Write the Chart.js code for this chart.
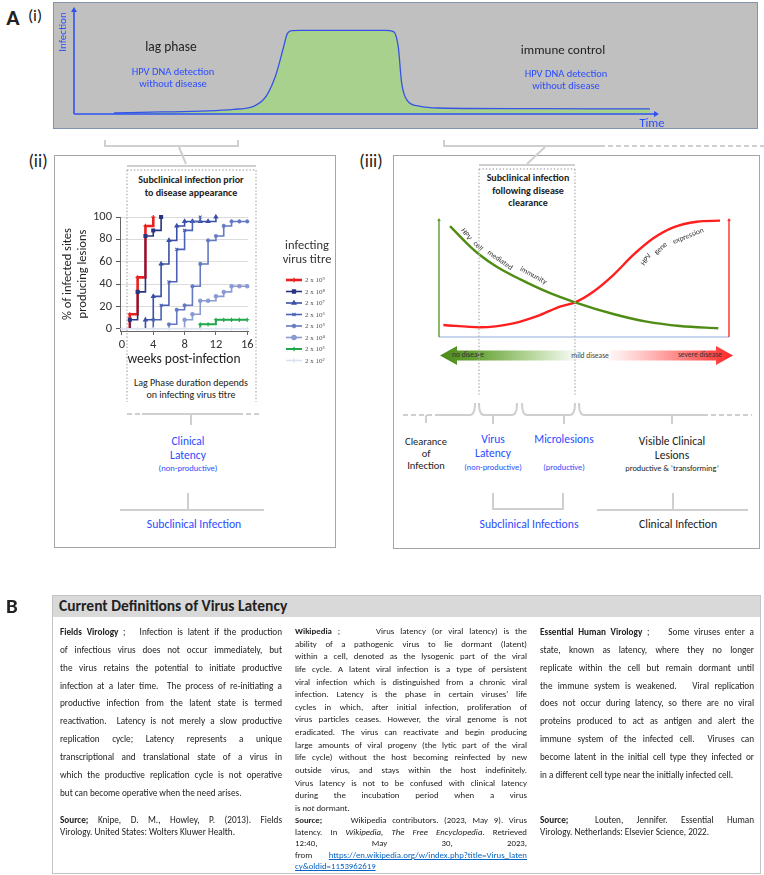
<!DOCTYPE html>
<html>
<head>
<meta charset="utf-8">
<script src="https://cdn.jsdelivr.net/npm/chart.js"></script>
<style>
  body { margin: 0; background: #fff; }
  #page { position: relative; width: 764px; height: 875px; overflow: hidden; font-family: Carlito, Lato, sans-serif; color: #222; }
  .t { position: absolute; transform: translate(-50%, -50%); white-space: nowrap; line-height: 1; }
  .blue { color: #2a4cff; }
  canvas { position: absolute; }
  .box { position: absolute; box-sizing: border-box; }
  .col { position: absolute; font-size: 9.2px; color: #222; }
  .ln { position: absolute; left: 0; width: 100%; height: 12px; line-height: 12px; text-align: justify; text-align-last: justify; overflow: visible; }
  .ln.ll { text-align-last: left; }
  .col a { color: #0563c1; text-decoration: underline; }
</style>
</head>
<body>
<div id="page">
  <!-- panel A (i) -->
  <div class="t" style="left:13px;top:18px;font-size:22px;font-weight:bold;">A</div>
  <div class="t" style="left:35px;top:15px;font-size:17px;">(i)</div>
  <div class="box" style="left:53px;top:2px;width:705px;height:127px;background:#c0c0c0;border:1.5px solid #8493ad;"></div>
  <canvas id="lagChart" width="620" height="120" style="left:60px;top:5px;"></canvas>
  <div class="t" style="left:171px;top:47px;font-size:13.5px;">lag phase</div>
  <div class="t blue" style="left:173px;top:72px;font-size:10.5px;">HPV DNA detection</div>
  <div class="t blue" style="left:173px;top:84px;font-size:10.5px;">without disease</div>
  <div class="t" style="left:563px;top:49px;font-size:13px;">immune control</div>
  <div class="t blue" style="left:566px;top:74px;font-size:10.5px;">HPV DNA detection</div>
  <div class="t blue" style="left:566px;top:86px;font-size:10.5px;">without disease</div>
  <div class="t blue" style="left:62px;top:32px;font-size:11px;transform:translate(-50%,-50%) rotate(-90deg);">Infection</div>
  <div class="t blue" style="left:652px;top:123px;font-size:12.5px;">Time</div>

  <!-- panel (ii) -->
  <div class="t" style="left:38px;top:161px;font-size:18px;">(ii)</div>
  <div class="box" style="left:54px;top:155px;width:282px;height:393px;border:1.5px solid #a6a6a6;"></div>
  <div class="t" style="left:191px;top:180px;font-size:10px;font-weight:bold;">Subclinical infection prior</div>
  <div class="t" style="left:191px;top:193px;font-size:10px;font-weight:bold;">to disease appearance</div>
  <canvas id="titreChart" width="300" height="175" style="left:40px;top:200px;"></canvas>
  <div class="t" style="left:191px;top:383px;font-size:10px;">Lag Phase duration depends</div>
  <div class="t" style="left:191px;top:395px;font-size:10px;">on infecting virus titre</div>
  <div class="t blue" style="left:188px;top:442px;font-size:11.5px;">Clinical</div>
  <div class="t blue" style="left:188px;top:456px;font-size:11.5px;">Latency</div>
  <div class="t blue" style="left:188px;top:468px;font-size:8.6px;">(non-productive)</div>
  <div class="t blue" style="left:194px;top:525px;font-size:11.7px;">Subclinical Infection</div>

  <!-- panel (iii) -->
  <div class="t" style="left:371px;top:161px;font-size:18px;">(iii)</div>
  <div class="box" style="left:393px;top:155px;width:367px;height:394px;border:1.5px solid #a6a6a6;"></div>
  <div class="t" style="left:528px;top:178px;font-size:10px;font-weight:bold;">Subclinical infection</div>
  <div class="t" style="left:528px;top:191px;font-size:10px;font-weight:bold;">following disease</div>
  <div class="t" style="left:528px;top:203px;font-size:10px;font-weight:bold;">clearance</div>
  <canvas id="stageChart" width="310" height="140" style="left:430px;top:205px;"></canvas>
  <div class="box" style="left:440px;top:346px;width:293px;height:19px;background:linear-gradient(to right,#4a8a18 0%,#66a236 12%,#b2d496 30%,#eef6e8 44%,#ffffff 50%,#ffffff 56%,#ffd4d4 66%,#ff7a7a 84%,#ff2626 100%);clip-path:polygon(0 50%,17px 0,17px 4.5px,calc(100% - 17px) 4.5px,calc(100% - 17px) 0,100% 50%,calc(100% - 17px) 100%,calc(100% - 17px) 14.5px,17px 14.5px,17px 100%);"></div>
  <div class="t" style="left:468px;top:355px;font-size:7.5px;color:#333;">no diseare</div>
  <div class="t" style="left:590px;top:356px;font-size:7.5px;color:#444;">mild disease</div>
  <div class="t" style="left:700px;top:355px;font-size:7.5px;color:#333;">severe disease</div>
  <div class="t" style="left:426px;top:442px;font-size:10.5px;">Clearance</div>
  <div class="t" style="left:426px;top:454px;font-size:10.5px;">of</div>
  <div class="t" style="left:426px;top:466px;font-size:10.5px;">Infection</div>
  <div class="t blue" style="left:493px;top:440px;font-size:11.5px;">Virus</div>
  <div class="t blue" style="left:493px;top:454px;font-size:11.5px;">Latency</div>
  <div class="t blue" style="left:493px;top:467px;font-size:8.4px;">(non-productive)</div>
  <div class="t blue" style="left:564px;top:440px;font-size:11.5px;">Microlesions</div>
  <div class="t blue" style="left:564px;top:467px;font-size:8.4px;">(productive)</div>
  <div class="t" style="left:672px;top:442px;font-size:11.5px;">Visible Clinical</div>
  <div class="t" style="left:672px;top:456px;font-size:11.5px;">Lesions</div>
  <div class="t" style="left:672px;top:468px;font-size:8.3px;">productive &amp; ‘transforming’</div>
  <div class="t blue" style="left:529px;top:525px;font-size:11.7px;">Subclinical Infections</div>
  <div class="t" style="left:678px;top:525px;font-size:11.7px;">Clinical Infection</div>

  <!-- connectors, brackets, dotted frames -->
  <svg class="box" width="764" height="875" style="left:0;top:0;pointer-events:none;" fill="none" stroke="#cfcfcf" stroke-width="2">
    <polyline points="105,140 105,146 238,146 238,140"/>
    <line x1="179" y1="147" x2="186" y2="164"/>
    <polyline points="444,140 444,146 600,146"/>
    <line x1="600" y1="146" x2="764" y2="146" stroke-dasharray="5,3"/>
    <line x1="545" y1="147" x2="527" y2="164"/>

    <line x1="127" y1="166" x2="256" y2="166"/>
    <g stroke="#b5b5b5" stroke-width="1.4" stroke-dasharray="1.4,2">
      <line x1="127" y1="170" x2="256" y2="170"/>
      <line x1="127" y1="170" x2="127" y2="402"/>
      <line x1="256" y1="170" x2="256" y2="402"/>
    </g>
    <line x1="479" y1="165" x2="575" y2="165"/>
    <g stroke="#b5b5b5" stroke-width="1.4" stroke-dasharray="1.4,2">
      <line x1="479" y1="169" x2="575" y2="169"/>
      <line x1="479" y1="169" x2="479" y2="396"/>
      <line x1="575" y1="169" x2="575" y2="396"/>
    </g>

    <line x1="127" y1="414" x2="142" y2="414" stroke-dasharray="5,3"/>
    <line x1="142" y1="414" x2="238" y2="414"/>
    <line x1="238" y1="414" x2="260" y2="414" stroke-dasharray="5,3"/>
    <line x1="191" y1="414" x2="191" y2="425"/>
    <line x1="188" y1="493" x2="188" y2="510"/>
    <line x1="120" y1="510" x2="264" y2="510"/>

    <line x1="403" y1="415" x2="438" y2="415" stroke-dasharray="5,3"/>
    <path d="M438 415 L470 415 Q475 415 475 403"/>
    <line x1="426" y1="415" x2="426" y2="423"/>
    <path d="M479 403 Q479 415 484 415 L512 415 Q517 415 517 403"/>
    <line x1="493" y1="415" x2="493" y2="424"/>
    <path d="M522 403 Q522 415 527 415 L570 415 Q575 415 575 403"/>
    <line x1="564" y1="415" x2="564" y2="424"/>
    <path d="M579 403 Q579 415 584 415 L703 415"/>
    <line x1="703" y1="415" x2="752" y2="415" stroke-dasharray="5,3"/>
    <line x1="672" y1="415" x2="672" y2="424"/>
    <polyline points="493,493 493,509 563,509 563,493"/>
    <line x1="597" y1="510" x2="748" y2="510"/>
    <line x1="673" y1="493" x2="673" y2="510"/>
  </svg>

  <!-- panel B -->
  <div class="t" style="left:12px;top:606px;font-size:21px;font-weight:bold;">B</div>
  <div class="box" style="left:52px;top:595px;width:709px;height:279px;border:1px solid #c4c4c4;"></div>
  <div class="box" style="left:53px;top:596px;width:707px;height:21px;background:#d9d9d9;"></div>
  <div style="position:absolute;left:59px;top:597px;font-size:15.5px;font-weight:bold;line-height:18px;white-space:nowrap;">Current Definitions of Virus Latency</div>

  <div class="col" id="col1" style="left:60px;top:0;width:222px;">
    <div class="ln" style="top:626px;"><b>Fields Virology</b> ;&nbsp;&nbsp; Infection is latent if the production</div>
    <div class="ln" style="top:644px;">of infectious virus does not occur immediately, but</div>
    <div class="ln" style="top:662px;">the virus retains the potential to initiate productive</div>
    <div class="ln" style="top:680px;">infection at a later time.&nbsp; The process of re-initiating a</div>
    <div class="ln" style="top:697px;">productive infection from the latent state is termed</div>
    <div class="ln" style="top:715px;">reactivation.&nbsp; Latency is not merely a slow productive</div>
    <div class="ln" style="top:733px;">replication cycle; Latency represents a unique</div>
    <div class="ln" style="top:751px;">transcriptional and translational state of a virus in</div>
    <div class="ln" style="top:769px;">which the productive replication cycle is not operative</div>
    <div class="ln ll" style="top:787px;">but can become operative when the need arises.</div>
    <div class="ln" style="top:814px;"><b>Source;</b> Knipe, D. M., Howley, P. (2013). Fields</div>
    <div class="ln ll" style="top:826px;">Virology. United States: Wolters Kluwer Health.</div>
  </div>

  <div class="col" id="col2" style="left:295px;top:0;width:232px;font-size:8.8px;">
    <div class="ln" style="top:625px;"><b>Wikipedia</b> ;&nbsp;&nbsp;&nbsp;&nbsp;&nbsp; Virus latency (or viral latency) is the</div>
    <div class="ln" style="top:638px;">ability of a pathogenic virus to lie dormant (latent)</div>
    <div class="ln" style="top:650px;">within a cell, denoted as the lysogenic part of the viral</div>
    <div class="ln" style="top:663px;">life cycle. A latent viral infection is a type of persistent</div>
    <div class="ln" style="top:676px;">viral infection which is distinguished from a chronic viral</div>
    <div class="ln" style="top:688px;">infection. Latency is the phase in certain viruses' life</div>
    <div class="ln" style="top:701px;">cycles in which, after initial infection, proliferation of</div>
    <div class="ln" style="top:713px;">virus particles ceases. However, the viral genome is not</div>
    <div class="ln" style="top:726px;">eradicated. The virus can reactivate and begin producing</div>
    <div class="ln" style="top:739px;">large amounts of viral progeny (the lytic part of the viral</div>
    <div class="ln" style="top:751px;">life cycle) without the host becoming reinfected by new</div>
    <div class="ln" style="top:764px;">outside virus, and stays within the host indefinitely.</div>
    <div class="ln" style="top:777px;">Virus latency is not to be confused with clinical latency</div>
    <div class="ln" style="top:789px;">during the incubation period when a virus</div>
    <div class="ln ll" style="top:802px;">is <i>not</i> dormant.</div>
    <div class="ln" style="top:814px;"><b>Source;</b>&nbsp;&nbsp;&nbsp;&nbsp; Wikipedia contributors. (2023, May 9). Virus</div>
    <div class="ln" style="top:826px;">latency. In <i>Wikipedia, The Free Encyclopedia</i>. Retrieved</div>
    <div class="ln" style="top:837px;">12:40, May 30, 2023,</div>
    <div class="ln" style="top:849px;">from <a>https://en.wikipedia.org/w/index.php?title=Virus_laten</a></div>
    <div class="ln ll" style="top:860px;"><a>cy&amp;oldid=1153962619</a></div>
  </div>

  <div class="col" id="col3" style="left:540px;top:0;width:214px;">
    <div class="ln" style="top:626px;"><b>Essential Human Virology</b> ;&nbsp;&nbsp;&nbsp; Some viruses enter a</div>
    <div class="ln" style="top:644px;">state, known as latency, where they no longer</div>
    <div class="ln" style="top:662px;">replicate within the cell but remain dormant until</div>
    <div class="ln" style="top:680px;">the immune system is weakened.&nbsp;&nbsp; Viral replication</div>
    <div class="ln" style="top:697px;">does not occur during latency, so there are no viral</div>
    <div class="ln" style="top:715px;">proteins produced to act as antigen and alert the</div>
    <div class="ln" style="top:733px;">immune system of the infected cell.&nbsp; Viruses can</div>
    <div class="ln" style="top:751px;">become latent in the initial cell type they infected or</div>
    <div class="ln ll" style="top:769px;">in a different cell type near the initially infected cell.</div>
    <div class="ln" style="top:814px;"><b>Source;</b>&nbsp; Louten, Jennifer. Essential Human</div>
    <div class="ln ll" style="top:826px;">Virology. Netherlands: Elsevier Science, 2022.</div>
  </div>
</div>

<script>
Chart.defaults.font.family = 'Carlito, Lato, sans-serif';
Chart.defaults.animation = false;
Chart.defaults.color = '#333';

// ---- (i) infection course over time ----
const lagX = [6.9, 15, 27.6, 32.6, 34.7, 36, 36.8, 37.6, 39, 53.6, 55.1, 55.9, 56.5, 57.4, 59.5, 62.8, 80, 99.3];
const lagY = [1, 2, 4.6, 13.7, 36.6, 62.7, 79, 81.7, 82, 82, 80.7, 66, 30, 13.7, 7.8, 5.9, 5.2, 5];

// ---- (ii) lesion appearance by infecting virus titre ----
const titreLabels = ['2 x 10⁹', '2 x 10⁸', '2 x 10⁷', '2 x 10⁶', '2 x 10⁵', '2 x 10⁴', '2 x 10³', '2 x 10²'];
const titreColors = ['#e8201e', '#28347f', '#3a4fa6', '#4b63b4', '#6479c2', '#8a9ad3', '#1fa84c', '#dde2f2'];
const titreMarkers = ['cross', 'rect', 'triangle', 'crossRot', 'star', 'circle', 'cross', 'cross'];
const wk9 = [1, 1, 2, 3, 4];
const pct9 = [0, 13, 46, 92, 100];
const wk8 = [1, 1, 2, 3, 4, 5];
const pct8 = [0, 8, 33, 83, 88, 100];
const wk7 = [3, 3, 4, 5, 6, 7, 8, 9, 10, 11, 12];
const pct7 = [0, 8, 29, 58, 79, 92, 96, 96, 96, 96, 100];
const wk6 = [4, 4, 5, 6, 7, 8, 9, 10];
const pct6 = [0, 8, 21, 42, 71, 88, 96, 100];
const wk5 = [6, 6, 7, 8, 9, 10, 11, 12, 13, 14, 15, 16];
const pct5 = [0, 4, 17, 21, 38, 58, 79, 83, 92, 96, 96, 96];
const wk4 = [8, 8, 9, 10, 11, 12, 13, 14, 15, 16];
const pct4 = [0, 8, 13, 25, 25, 29, 33, 38, 38, 38];
const wk3 = [10, 10, 11, 12, 13, 14, 15, 16];
const pct3 = [0, 4, 4, 8, 8, 8, 8, 8];
const wk2 = [0, 2, 4, 6, 8, 10, 12, 14, 16];
const pct2 = [0, 0, 0, 0, 0, 0, 0, 0, 0];
const weekTicks = [0, 4, 8, 12, 16];
const pctTicks = [0, 20, 40, 60, 80, 100];

// ---- (iii) immunity vs viral gene expression ----
const immX = [3.8, 9.6, 14.1, 19.9, 27.9, 37.1, 46.9, 60.1, 71.6, 83.1, 96.3];
const immY = [94, 79.4, 69.5, 59.6, 49, 38.4, 29.4, 19.5, 13, 9.3, 7.4];
const genX = [1.5, 14.1, 25.6, 34.8, 41.7, 46.9, 53.2, 60.1, 67, 73.9, 80.8, 88.9, 96.9];
const genY = [10.2, 8.2, 11.6, 18.6, 25.7, 29.4, 38.4, 52.5, 69.5, 83.6, 92.9, 97.7, 98.6];
const immWords = ['HPV', 'cell', 'mediated', 'immunity'];
const immWordX = [9.3, 13.4, 21, 32.5];
const immWordY = [87, 77, 65, 52];
const immWordAngle = [55, 45, 35, 29];
const genWords = ['HPV', 'gene', 'expression'];
const genWordX = [71.5, 76.5, 86];
const genWordY = [65.5, 75, 85.5];
const genWordAngle = [-55, -42, -22];

function pairs(xs, ys) {
  return xs.map((x, i) => ({x: x, y: ys[i]}));
}

function arrowLine(ctx, x1, y1, x2, y2, color, width, head) {
  ctx.save();
  ctx.strokeStyle = color;
  ctx.fillStyle = color;
  ctx.lineWidth = width;
  ctx.beginPath();
  ctx.moveTo(x1, y1);
  ctx.lineTo(x2, y2);
  ctx.stroke();
  const a = Math.atan2(y2 - y1, x2 - x1);
  ctx.beginPath();
  ctx.moveTo(x2 + Math.cos(a) * head, y2 + Math.sin(a) * head);
  ctx.lineTo(x2 + Math.cos(a + Math.PI / 2) * head * 0.6, y2 + Math.sin(a + Math.PI / 2) * head * 0.6);
  ctx.lineTo(x2 + Math.cos(a - Math.PI / 2) * head * 0.6, y2 + Math.sin(a - Math.PI / 2) * head * 0.6);
  ctx.closePath();
  ctx.fill();
  ctx.restore();
}

const lagAxes = {
  id: 'lagAxes',
  afterDatasetsDraw(chart) {
    const {ctx, chartArea: a} = chart;
    arrowLine(ctx, a.left, a.bottom, a.left, a.top, '#2f52f0', 1.6, 5);
    arrowLine(ctx, a.left, a.bottom, a.right, a.bottom, '#2f52f0', 1.6, 5);
  }
};

new Chart(document.getElementById('lagChart'), {
  type: 'line',
  data: {
    datasets: [{
      data: pairs(lagX, lagY),
      borderColor: '#3553e6',
      borderWidth: 1.3,
      backgroundColor: '#a9d18e',
      fill: 'origin',
      pointRadius: 0,
      cubicInterpolationMode: 'monotone'
    }]
  },
  options: {
    responsive: false,
    layout: { padding: { left: 14, right: 26, top: 7, bottom: 11 } },
    plugins: { legend: { display: false }, tooltip: { enabled: false } },
    scales: {
      x: { type: 'linear', display: false, min: 0, max: 100 },
      y: { display: false, min: 0, max: 100 }
    }
  },
  plugins: [lagAxes]
});

const titreLegend = {
  id: 'titreLegend',
  afterDraw(chart) {
    const ctx = chart.ctx;
    ctx.save();
    ctx.fillStyle = '#333';
    ctx.font = '12.5px Carlito, Lato, sans-serif';
    ctx.textAlign = 'center';
    ctx.textBaseline = 'middle';
    ctx.fillText('infecting', 267, 46);
    ctx.fillText('virus titre', 267, 60);
    chart.data.datasets.forEach((ds, i) => {
      const y = 80 + i * 11.5;
      ctx.strokeStyle = ds.borderColor;
      ctx.lineWidth = ds.borderWidth;
      ctx.beginPath();
      ctx.moveTo(246, y);
      ctx.lineTo(262, y);
      ctx.stroke();
      ctx.fillStyle = ds.borderColor;
      ctx.lineWidth = 1.2;
      Chart.helpers.drawPoint(ctx, {pointStyle: ds.pointStyle, radius: 2.2, rotation: 0, borderWidth: 1.2}, 254, y);
      ctx.fillStyle = '#555';
      ctx.font = '7px "Liberation Serif", serif';
      ctx.textAlign = 'left';
      ctx.fillText(ds.label, 265, y + 0.5);
    });
    ctx.restore();
  }
};

const titreSets = [[wk9, pct9], [wk8, pct8], [wk7, pct7], [wk6, pct6], [wk5, pct5], [wk4, pct4], [wk3, pct3], [wk2, pct2]];

new Chart(document.getElementById('titreChart'), {
  type: 'line',
  data: {
    datasets: titreSets.map((s, i) => ({
      label: titreLabels[i],
      data: pairs(s[0], s[1]),
      borderColor: titreColors[i],
      backgroundColor: titreColors[i],
      borderWidth: i === 0 ? 2.6 : (i === 6 ? 2 : 1.6),
      stepped: true,
      pointStyle: titreMarkers[i],
      pointRadius: (c) => (c.dataIndex === 0 && i !== 7) ? 0 : (titreMarkers[i] === 'circle' ? 1.7 : 2.1),
      pointBorderWidth: 1.1,
      clip: false,
      order: 7 - i
    }))
  },
  options: {
    responsive: false,
    layout: { padding: { left: 0, right: 92, top: 17, bottom: 0 } },
    plugins: { legend: { display: false }, tooltip: { enabled: false } },
    scales: {
      x: {
        type: 'linear', min: -0.25, max: 16.1,
        afterBuildTicks: (s) => { s.ticks = weekTicks.map(v => ({value: v})); },
        afterFit: (s) => { s.height = 44; },
        grid: { drawOnChartArea: false, tickLength: 4, color: '#666' },
        border: { color: '#666' },
        ticks: { font: { size: 12.5 }, padding: 2, color: '#333' },
        title: { display: true, text: 'weeks post-infection', font: { size: 13.5 }, padding: { top: 0, bottom: 7 }, color: '#222' }
      },
      y: {
        min: -2, max: 100,
        afterBuildTicks: (s) => { s.ticks = pctTicks.map(v => ({value: v})); },
        afterFit: (s) => { s.width = 80; },
        grid: { color: '#dcdcdc', tickLength: 4, tickColor: '#555' },
        border: { color: '#666' },
        ticks: { font: { size: 12.5 }, padding: 4, color: '#333' },
        title: { display: true, text: ['% of infected sites', 'producing lesions'], font: { size: 12.5 }, padding: { top: 20, bottom: 0 }, color: '#222' }
      }
    }
  },
  plugins: [titreLegend]
});

const stageAxes = {
  id: 'stageAxes',
  beforeDatasetsDraw(chart) {
    const {ctx, chartArea: a} = chart;
    ctx.save();
    ctx.strokeStyle = '#b4c7e7';
    ctx.lineWidth = 1.5;
    ctx.beginPath();
    ctx.moveTo(a.left, a.bottom);
    ctx.lineTo(a.right, a.bottom);
    ctx.stroke();
    ctx.restore();
    arrowLine(ctx, a.left, a.bottom, a.left, a.top + 2, '#5b9a2a', 1.4, 3);
    arrowLine(ctx, a.right, a.bottom, a.right, a.top + 2, '#ff2a2a', 1.4, 3);
  },
  afterDatasetsDraw(chart) {
    const {ctx, scales: {x, y}} = chart;
    ctx.save();
    ctx.fillStyle = '#333';
    ctx.font = '7.5px Carlito, Lato, sans-serif';
    ctx.textAlign = 'center';
    ctx.textBaseline = 'middle';
    const put = (w, wx, wy, ang) => {
      ctx.save();
      ctx.translate(x.getPixelForValue(wx), y.getPixelForValue(wy));
      ctx.rotate(ang * Math.PI / 180);
      ctx.fillText(w, 0, 0);
      ctx.restore();
    };
    immWords.forEach((w, i) => put(w, immWordX[i], immWordY[i], immWordAngle[i]));
    genWords.forEach((w, i) => put(w, genWordX[i], genWordY[i], genWordAngle[i]));
    ctx.restore();
  }
};

new Chart(document.getElementById('stageChart'), {
  type: 'line',
  data: {
    datasets: [{
      label: 'HPV cell mediated immunity',
      data: pairs(immX, immY),
      borderColor: '#4f8c14',
      borderWidth: 2.4,
      pointRadius: 0,
      cubicInterpolationMode: 'monotone'
    }, {
      label: 'HPV gene expression',
      data: pairs(genX, genY),
      borderColor: '#ff1e1e',
      borderWidth: 2.4,
      pointRadius: 0,
      cubicInterpolationMode: 'monotone'
    }]
  },
  options: {
    responsive: false,
    layout: { padding: { left: 9, right: 11, top: 14, bottom: 8 } },
    plugins: { legend: { display: false }, tooltip: { enabled: false } },
    scales: {
      x: { type: 'linear', display: false, min: 0, max: 100 },
      y: { display: false, min: 0, max: 100 }
    }
  },
  plugins: [stageAxes]
});

// squeeze any justified line that would wrap
function fitLines() {
  document.querySelectorAll('.ln').forEach(el => {
    let ls = 0;
    el.style.letterSpacing = '0px';
    while (el.scrollHeight > 14 && ls > -1.2) {
      ls -= 0.05;
      el.style.letterSpacing = ls.toFixed(2) + 'px';
    }
  });
}
fitLines();
if (document.fonts) document.fonts.ready.then(fitLines);
</script>
</body>
</html>
